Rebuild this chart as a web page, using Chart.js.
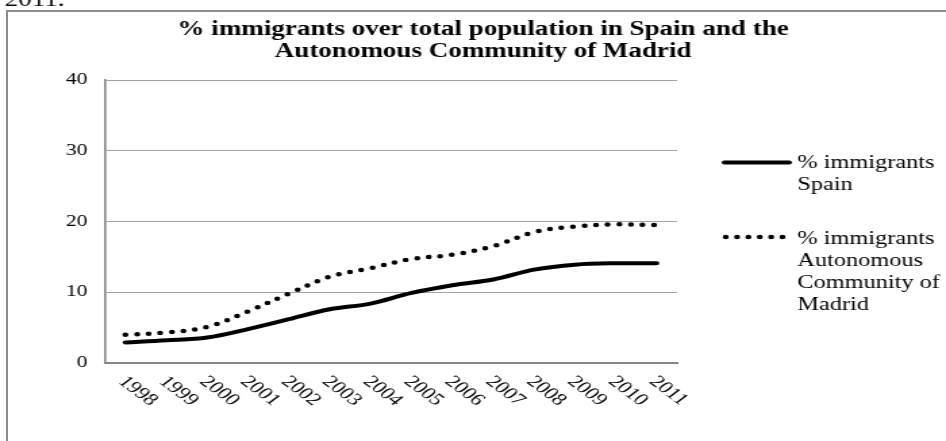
<!DOCTYPE html>
<html>
<head>
<meta charset="utf-8">
<script src="https://cdn.jsdelivr.net/npm/chart.js@4.4.1/dist/chart.umd.min.js"></script>
<style>
  body { margin: 0; background: #fff; }
  #frame { position: absolute; left: 6px; top: 10px; width: 960px; height: 460px;
           border-left: 2px solid #8c8c8c; border-top: 2px solid #8c8c8c; }
</style>
</head>
<body>
<div id="frame"></div>
<canvas id="c" width="700" height="441" style="position:absolute;left:0;top:0;width:946px;height:441px"></canvas>
<script>
// données
var years = ['1998', '1999', '2000', '2001', '2002', '2003', '2004', '2005', '2006', '2007', '2008', '2009', '2010', '2011'];
var spainPct = [2.9, 3.2, 3.6, 4.8, 6.2, 7.6, 8.4, 9.9, 11.0, 11.8, 13.2, 13.9, 14.1, 14.1];
var madridPct = [4.0, 4.3, 5.1, 7.3, 9.8, 12.2, 13.4, 14.7, 15.3, 16.5, 18.5, 19.3, 19.6, 19.5];
var yMin = 0, yMax = 40, yStep = 10;
var titleLines = ['% immigrants over total population in Spain and the', 'Autonomous Community of Madrid'];
var legendSpain = ['% immigrants', 'Spain'];
var legendMadrid = ['% immigrants', 'Autonomous', 'Community of', 'Madrid'];

var serif = '"Liberation Serif", "Times New Roman", serif';

// titre, etiquettes x inclinees et legende dessines a la main
var extras = {
    id: 'extras',
    afterDraw: function (chart) {
        var ctx = chart.ctx;
        var x = chart.scales.x;
        ctx.save();
        ctx.fillStyle = '#000';

        ctx.font = '20px ' + serif;
        ctx.textAlign = 'left';
        ctx.textBaseline = 'alphabetic';
        ctx.fillText('2011.', 3.5, 6);

        ctx.font = 'bold 20px ' + serif;
        ctx.textAlign = 'center';
        ctx.fillText(titleLines[0], 357.5, 35);
        ctx.fillText(titleLines[1], 357.5, 57);

        ctx.font = '17px ' + serif;
        ctx.textAlign = 'left';
        ctx.textBaseline = 'top';
        for (var i = 0; i < years.length; i++) {
            ctx.save();
            ctx.translate(x.getPixelForValue(i) + 3, 373);
            ctx.rotate(Math.PI / 4);
            ctx.fillText(years[i], 0, 0);
            ctx.restore();
        }

        // legende
        ctx.strokeStyle = '#000';
        ctx.lineCap = 'round';
        ctx.lineWidth = 4;
        ctx.beginPath();
        ctx.moveTo(536, 162.5);
        ctx.lineTo(584, 162.5);
        ctx.stroke();

        ctx.lineWidth = 4.5;
        ctx.setLineDash([0, 8.4]);
        ctx.beginPath();
        ctx.moveTo(537, 237);
        ctx.lineTo(580, 237);
        ctx.stroke();
        ctx.setLineDash([]);

        ctx.font = '18px ' + serif;
        ctx.textBaseline = 'middle';
        for (var j = 0; j < legendSpain.length; j++) {
            ctx.fillText(legendSpain[j], 590, 163 + j * 22);
        }
        for (var k = 0; k < legendMadrid.length; k++) {
            ctx.fillText(legendMadrid[k], 590, 239 + k * 22);
        }
        ctx.restore();
    }
};

var data = {
    labels: years,
    datasets: [{
        label: '% immigrants Spain',
        data: spainPct,
        borderColor: '#000',
        borderWidth: 4,
        borderCapStyle: 'round',
        tension: 0.35,
        pointRadius: 0,
        fill: false
    }, {
        label: '% immigrants Autonomous Community of Madrid',
        data: madridPct,
        borderColor: '#000',
        borderWidth: 4.5,
        borderDash: [0, 8.6],
        borderCapStyle: 'round',
        tension: 0.35,
        pointRadius: 0,
        fill: false
    }]
};

var config = {
    type: 'line',
    data: data,
    options: {
        responsive: false,
        animation: false,
        devicePixelRatio: 1,
        layout: {
            padding: { top: 80, right: 199, bottom: 78, left: 0 }
        },
        plugins: {
            legend: { display: false },
            title: { display: false },
            tooltip: { enabled: false }
        },
        scales: {
            x: {
                offset: true,
                grid: { display: false },
                border: { display: true, color: '#878787', width: 2 },
                ticks: { display: false },
                afterFit: function (s) { s.height = 0; }
            },
            y: {
                min: yMin,
                max: yMax,
                ticks: {
                    stepSize: yStep,
                    color: '#000',
                    padding: 13,
                    font: { family: serif, size: 16 }
                },
                grid: { color: '#a3a3a3', lineWidth: 1, drawTicks: false },
                border: { color: '#878787', width: 1.6 },
                afterFit: function (s) { s.width = 77.7; }
            }
        }
    },
    plugins: [extras]
};

var myChart = new Chart(document.getElementById('c'), config);
</script>
</body>
</html>
